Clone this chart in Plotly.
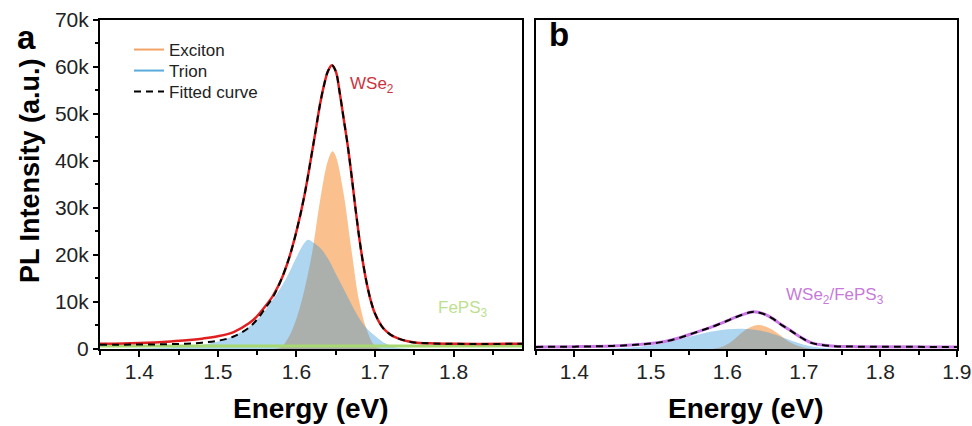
import plotly.graph_objects as go

# ---------------- Panel a : WSe2 ----------------
E_a_meas = [1.35, 1.38, 1.40, 1.42, 1.44, 1.46, 1.48, 1.50, 1.52, 1.54, 1.55, 1.56, 1.57, 1.58, 1.59,
            1.60, 1.61, 1.62, 1.625, 1.63, 1.635, 1.64, 1.645, 1.65, 1.655, 1.66, 1.665, 1.67, 1.675,
            1.68, 1.685, 1.69, 1.695, 1.70, 1.71, 1.72, 1.73, 1.74, 1.75, 1.77, 1.80, 1.887]
I_a_meas = [1100, 1150, 1250, 1400, 1600, 1850, 2200, 2700, 3600, 5500, 7000, 9000, 11300, 14500, 19000,
            25000, 32500, 42000, 47000, 52000, 56000, 59000, 60300, 59000, 54500, 49000, 43500, 37000, 30000,
            23500, 18000, 13500, 10000, 7500, 4500, 3000, 2200, 1700, 1400, 1200, 1100, 1100]
I_a_fit = [900, 920, 950, 980, 1030, 1120, 1350, 1750, 2650, 4600, 6300, 8600, 11000, 14500, 19000,
           25000, 32500, 42000, 47000, 52000, 56000, 59000, 60300, 59000, 54500, 49000, 43500, 37000, 30000,
           23500, 18000, 13500, 10000, 7500, 4500, 3000, 2200, 1700, 1400, 1200, 1100, 1100]

E_a_exc = [1.57, 1.58, 1.59, 1.60, 1.61, 1.62, 1.63, 1.64, 1.646, 1.65, 1.66, 1.67, 1.68, 1.69, 1.70, 1.71]
I_a_exc = [0, 300, 2500, 6500, 12500, 20500, 31500, 40000, 42000, 41000, 33000, 21000, 10000, 3800, 600, 0]

E_a_tri = [1.38, 1.40, 1.42, 1.45, 1.48, 1.50, 1.52, 1.54, 1.55, 1.56, 1.57, 1.58, 1.59, 1.60, 1.61, 1.615,
           1.62, 1.63, 1.64, 1.65, 1.66, 1.67, 1.68, 1.69, 1.70, 1.71, 1.72, 1.73, 1.75]
I_a_tri = [0, 100, 200, 400, 900, 1600, 2800, 4800, 6200, 8200, 10500, 13000, 16000, 19500, 22500, 23200,
           22800, 21500, 19200, 16000, 12800, 9500, 6500, 4300, 2800, 1500, 700, 200, 0]

E_a_feps = [1.35, 1.45, 1.55, 1.65, 1.75, 1.85, 1.887]
I_a_feps = [650, 650, 650, 650, 650, 650, 650]

# ---------------- Panel b : WSe2/FePS3 ----------------
E_b_meas = [1.35, 1.40, 1.45, 1.48, 1.50, 1.52, 1.54, 1.56, 1.58, 1.60, 1.61, 1.62, 1.63, 1.635, 1.64,
            1.65, 1.66, 1.67, 1.68, 1.69, 1.70, 1.71, 1.72, 1.74, 1.77, 1.90]
I_b_meas = [450, 500, 650, 900, 1150, 1650, 2500, 3600, 4700, 6000, 6700, 7300, 7800, 7900, 7800,
            7300, 6400, 5200, 4200, 3100, 2100, 1300, 950, 600, 500, 450]
I_b_fit = I_b_meas

E_b_exc = [1.58, 1.59, 1.60, 1.61, 1.62, 1.63, 1.64, 1.65, 1.66, 1.67, 1.68, 1.69, 1.70, 1.71]
I_b_exc = [0, 300, 1000, 2200, 3600, 4600, 5100, 4800, 4000, 2800, 1600, 800, 300, 0]

E_b_tri = [1.42, 1.45, 1.48, 1.50, 1.52, 1.54, 1.56, 1.58, 1.60, 1.62, 1.64, 1.66, 1.68, 1.70, 1.72, 1.74]
I_b_tri = [0, 100, 400, 800, 1400, 2200, 3000, 3700, 4200, 4300, 4000, 3200, 2000, 900, 300, 0]

# ---------------- Ticks ----------------
x_a_tickvals = [1.4, 1.5, 1.6, 1.7, 1.8]
x_a_ticktext = ["1.4", "1.5", "1.6", "1.7", "1.8"]
x_b_tickvals = [1.4, 1.5, 1.6, 1.7, 1.8, 1.9]
x_b_ticktext = ["1.4", "1.5", "1.6", "1.7", "1.8", "1.9"]
y_tickvals = [0, 10000, 20000, 30000, 40000, 50000, 60000, 70000]
y_ticktext = ["0", "10k", "20k", "30k", "40k", "50k", "60k", "70k"]

FONT = "Liberation Sans, Arial, sans-serif"
ORANGE_FILL = "rgba(245,130,30,0.5)"
BLUE_FILL = "rgba(52,152,220,0.4)"
RED = "#e02020"
VIOLET = "#cc77e6"
GREEN = "#a8d870"

fig = go.Figure()

# legend entries (one legend per row so rows can sit at the reference spacing)
fig.add_trace(go.Scatter(x=[None], y=[None], mode="lines", name="Exciton",
                         line=dict(color="#f2a468", width=2), legend="legend"))
fig.add_trace(go.Scatter(x=[None], y=[None], mode="lines", name="Trion",
                         line=dict(color="#5aaadc", width=2), legend="legend2"))
fig.add_trace(go.Scatter(x=[None], y=[None], mode="lines", name="Fitted curve",
                         line=dict(color="black", width=2, dash="7px,5px"), legend="legend3"))

# panel a
fig.add_trace(go.Scatter(x=E_a_exc, y=I_a_exc, mode="lines", fill="tozeroy", fillcolor=ORANGE_FILL,
                         line=dict(width=0, shape="spline"), showlegend=False, xaxis="x", yaxis="y"))
fig.add_trace(go.Scatter(x=E_a_tri, y=I_a_tri, mode="lines", fill="tozeroy", fillcolor=BLUE_FILL,
                         line=dict(width=0, shape="spline"), showlegend=False, xaxis="x", yaxis="y"))
fig.add_trace(go.Scatter(x=E_a_feps, y=I_a_feps, mode="lines", line=dict(color=GREEN, width=3),
                         showlegend=False, xaxis="x", yaxis="y"))
fig.add_trace(go.Scatter(x=E_a_meas, y=I_a_meas, mode="lines", line=dict(color=RED, width=2.5, shape="spline"),
                         showlegend=False, xaxis="x", yaxis="y"))
fig.add_trace(go.Scatter(x=E_a_meas, y=I_a_fit, mode="lines",
                         line=dict(color="black", width=2, dash="7px,5px", shape="spline"),
                         showlegend=False, xaxis="x", yaxis="y"))

# panel b
fig.add_trace(go.Scatter(x=E_b_exc, y=I_b_exc, mode="lines", fill="tozeroy", fillcolor=ORANGE_FILL,
                         line=dict(width=0, shape="spline"), showlegend=False, xaxis="x2", yaxis="y2"))
fig.add_trace(go.Scatter(x=E_b_tri, y=I_b_tri, mode="lines", fill="tozeroy", fillcolor=BLUE_FILL,
                         line=dict(width=0, shape="spline"), showlegend=False, xaxis="x2", yaxis="y2"))
fig.add_trace(go.Scatter(x=E_b_meas, y=I_b_meas, mode="lines", line=dict(color=VIOLET, width=3, shape="spline"),
                         showlegend=False, xaxis="x2", yaxis="y2"))
fig.add_trace(go.Scatter(x=E_b_meas, y=I_b_fit, mode="lines",
                         line=dict(color="black", width=2, dash="7px,5px", shape="spline"),
                         showlegend=False, xaxis="x2", yaxis="y2"))

W, H = 972, 426
def px(x):
    return x / W
def py(y):
    return 1 - y / H

tickfont = dict(family=FONT, size=21, color="#222")
common_x = dict(showline=True, linecolor="black", linewidth=2, mirror=True, ticks="outside",
                ticklen=6, tickwidth=1.5, tickcolor="black", tickfont=tickfont, showgrid=False,
                zeroline=False, automargin=False, ticklabelstandoff=-3,
                minor=dict(tickmode="linear", tick0=1.35, dtick=0.05, ticks="outside", ticklen=4,
                           tickwidth=1.5, tickcolor="black", showgrid=False))

legend_common = dict(xanchor="left", yanchor="middle", bgcolor="rgba(0,0,0,0)",
                     font=dict(family=FONT, size=17, color="#222"), borderwidth=0)

fig.update_layout(
    width=W, height=H, margin=dict(l=0, r=0, t=0, b=0),
    paper_bgcolor="white", plot_bgcolor="white",
    font=dict(family=FONT, color="#222"),
    xaxis=dict(domain=[px(100), px(522)], range=[1.35, 1.887], tickmode="array",
               tickvals=x_a_tickvals, ticktext=x_a_ticktext, anchor="y", **common_x),
    xaxis2=dict(domain=[px(536), px(957)], range=[1.35, 1.9001], tickmode="array",
                tickvals=x_b_tickvals, ticktext=x_b_ticktext, anchor="y2", **common_x),
    yaxis=dict(domain=[py(349), py(19.5)], range=[0, 70000], tickmode="array",
               tickvals=y_tickvals, ticktext=y_ticktext, showline=True, linecolor="black",
               linewidth=2, mirror=True, ticks="outside", ticklen=5, tickwidth=1.5,
               tickcolor="black", tickfont=tickfont, showgrid=False, zeroline=False,
               automargin=False, anchor="x",
               minor=dict(tickmode="linear", tick0=0, dtick=5000, ticks="outside", ticklen=3,
                          tickwidth=1.5, tickcolor="black", showgrid=False)),
    yaxis2=dict(domain=[py(349), py(19.5)], range=[0, 70000], showticklabels=False, ticks="",
                showline=True, linecolor="black", linewidth=2, mirror=True, showgrid=False,
                zeroline=False, automargin=False, anchor="x2"),
    legend=dict(x=px(129), y=py(50), **legend_common),
    legend2=dict(x=px(129), y=py(71), **legend_common),
    legend3=dict(x=px(129), y=py(92), **legend_common),
    showlegend=True,
)

ann = [
    dict(text="<b>Energy (eV)</b>", x=px(311), y=py(408), xanchor="center", yanchor="middle",
         font=dict(family=FONT, size=28, color="black")),
    dict(text="<b>Energy (eV)</b>", x=px(746), y=py(408), xanchor="center", yanchor="middle",
         font=dict(family=FONT, size=28, color="black")),
    dict(text="<b>PL Intensity (a.u.)</b>", x=px(30), y=py(171), xanchor="center", yanchor="middle",
         textangle=-90, font=dict(family=FONT, size=27, color="black")),
    dict(text="<b>a</b>", x=px(26), y=py(38), xanchor="center", yanchor="middle",
         font=dict(family=FONT, size=33, color="black")),
    dict(text="<b>b</b>", x=px(559), y=py(35), xanchor="center", yanchor="middle",
         font=dict(family=FONT, size=33, color="black")),
    dict(text="WSe<sub>2</sub>", x=px(348), y=py(85), xanchor="left", yanchor="middle",
         font=dict(family=FONT, size=17, color="#cc3340")),
    dict(text="FePS<sub>3</sub>", x=px(436), y=py(309), xanchor="left", yanchor="middle",
         font=dict(family=FONT, size=17, color="#bde08f")),
    dict(text="WSe<sub>2</sub>/FePS<sub>3</sub>", x=px(784), y=py(296), xanchor="left", yanchor="middle",
         font=dict(family=FONT, size=17, color="#c77ad9")),
]
for a in ann:
    a.update(xref="paper", yref="paper", showarrow=False)
fig.update_layout(annotations=ann)

fig.write_html("out.html", config={"displayModeBar": False},
               post_script="document.body.style.margin='0';")
